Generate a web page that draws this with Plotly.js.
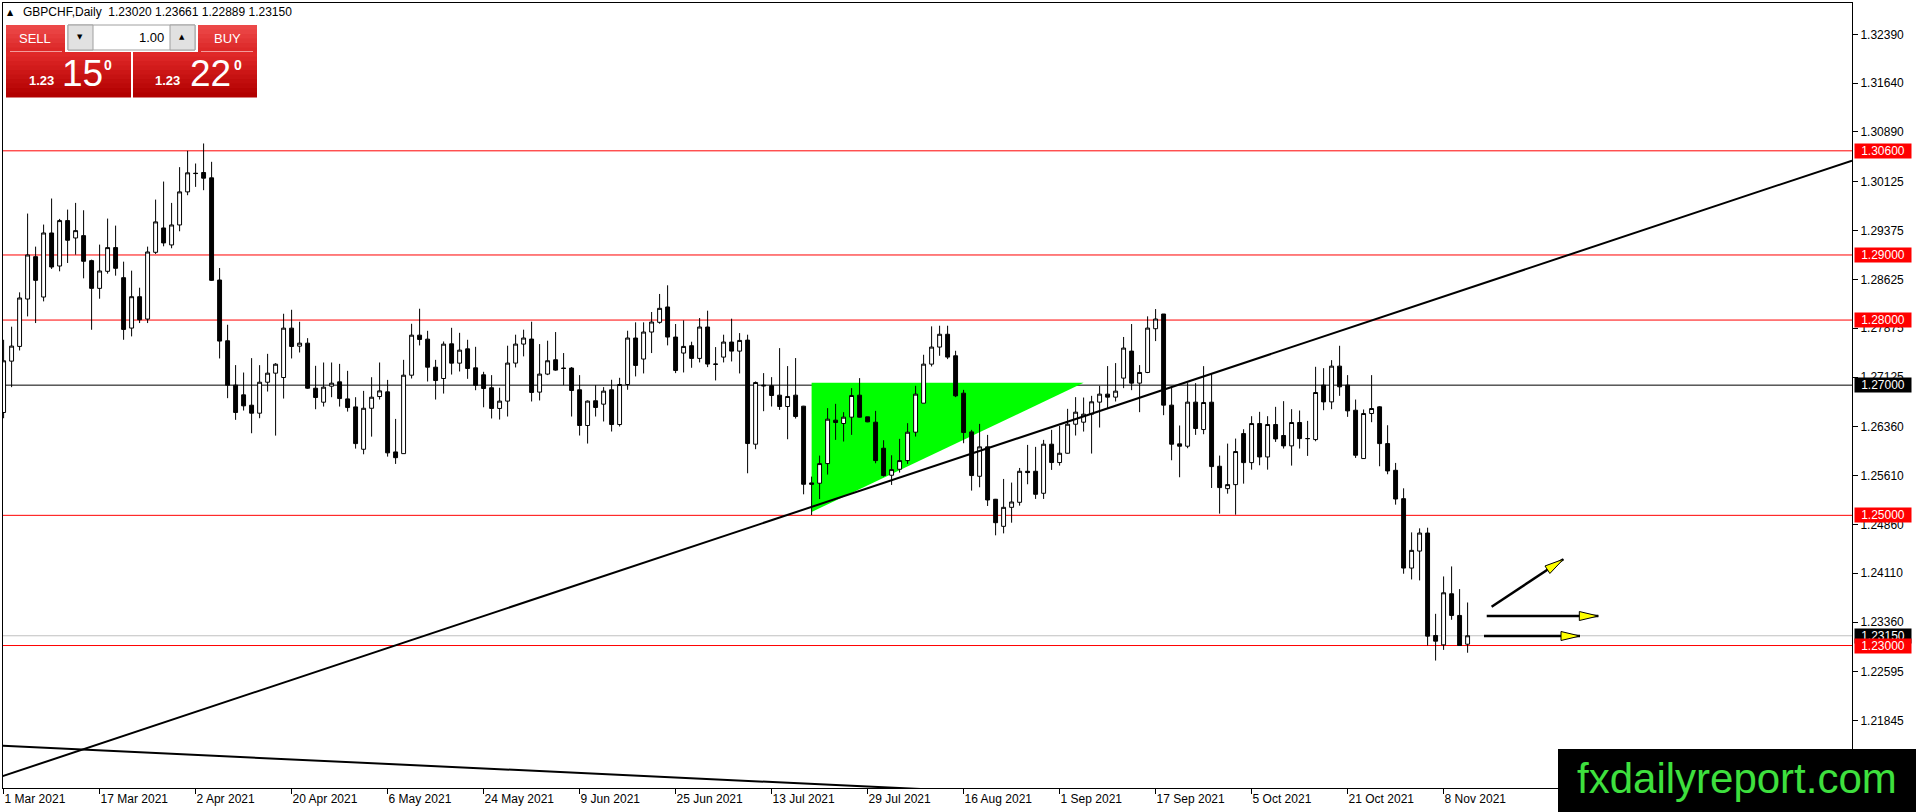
<!DOCTYPE html>
<html>
<head>
<meta charset="utf-8">
<script src="https://cdn.plot.ly/plotly-3.0.1.min.js"></script>
<style>
  html, body { margin: 0; padding: 0; background: #fff; }
  #chart { width: 1916px; height: 812px; }
</style>
</head>
<body>
<div id="chart"></div>
<script>
// GBPCHF daily bars, 1 Mar 2021 .. 11 Nov 2021
var openP = [1.26580,1.27369,1.27595,1.28323,1.28974,1.28354,1.29338,1.28830,1.29528,1.29261,
 1.29297,1.28913,1.28487,1.28749,1.29113,1.28651,1.27877,1.28359,1.28015,1.29041,
 1.29415,1.29154,1.29461,1.29969,1.30256,1.30267,1.30185,1.28615,1.27682,1.27000,
 1.26851,1.26692,1.26569,1.27045,1.27184,1.27117,1.27876,1.27599,1.27645,1.26953,
 1.26738,1.26984,1.27051,1.26789,1.26666,1.26015,1.26645,1.26825,1.26897,1.25974,
 1.25948,1.27153,1.27768,1.27707,1.27276,1.27102,1.27635,1.27338,1.27558,1.27266,
 1.27159,1.26960,1.26642,1.26755,1.27339,1.27631,1.27708,1.26893,1.27170,1.27390,
 1.27262,1.27262,1.26929,1.26380,1.26760,1.26708,1.26929,1.26395,1.27010,1.27724,
 1.27401,1.27816,1.27965,1.28201,1.27739,1.27493,1.27606,1.27411,1.27893,1.27318,
 1.27431,1.27662,1.27523,1.27692,1.26093,1.27000,1.26990,1.26846,1.26672,1.26846,
 1.26677,1.25498,1.25493,1.25795,1.26462,1.26411,1.26508,1.26846,1.26513,1.26431,
 1.26031,1.25616,1.25708,1.25841,1.26277,1.26723,1.27323,1.27585,1.27782,1.27451,
 1.26877,1.26282,1.25600,1.26052,1.25247,1.24831,1.25123,1.25200,1.25677,1.25677,
 1.25339,1.26093,1.25811,1.25954,1.26400,1.26431,1.26554,1.26739,1.26862,1.26816,
 1.27108,1.27523,1.27031,1.27195,1.27867,1.28093,1.26693,1.26098,1.26062,1.26739,
 1.26318,1.26738,1.25754,1.25410,1.25472,1.26256,1.25810,1.26410,1.25897,1.26395,
 1.26226,1.26067,1.26426,1.26179,1.26164,1.27000,1.26743,1.27292,1.27000,1.26615,
 1.25872,1.26564,1.26667,1.26102,1.25692,1.25256,1.24190,1.24451,1.24728,1.23154,
 1.23010,1.23795,1.23462,1.23020];

var highP = [1.27697,1.27898,1.28426,1.29636,1.29128,1.29467,1.29867,1.29554,1.29697,1.29800,
 1.29687,1.28928,1.29159,1.29559,1.29451,1.28897,1.28759,1.28497,1.29128,1.29851,
 1.30128,1.29800,1.30349,1.30600,1.30405,1.30713,1.30431,1.28800,1.27928,1.27308,
 1.27194,1.27415,1.27307,1.27481,1.27338,1.28097,1.28158,1.27974,1.27722,1.27297,
 1.27348,1.27348,1.27327,1.27220,1.26815,1.26912,1.27122,1.27348,1.27081,1.26481,
 1.27389,1.27943,1.28174,1.27835,1.27389,1.27671,1.27881,1.27804,1.27697,1.27589,
 1.27205,1.27154,1.26960,1.27606,1.27775,1.27852,1.27975,1.27631,1.27683,1.27816,
 1.27493,1.27278,1.27154,1.26765,1.27000,1.26970,1.27083,1.27113,1.27836,1.27965,
 1.27965,1.28124,1.28401,1.28534,1.27939,1.27995,1.27667,1.28031,1.28144,1.27585,
 1.27775,1.28021,1.27800,1.27775,1.27057,1.27185,1.27123,1.27569,1.27293,1.27416,
 1.26682,1.25595,1.25918,1.26647,1.26713,1.26585,1.26954,1.27108,1.26513,1.26605,
 1.26154,1.25923,1.26175,1.26416,1.26990,1.27467,1.27903,1.27913,1.27913,1.27528,
 1.26928,1.26313,1.26405,1.26236,1.25252,1.25559,1.25503,1.25728,1.26082,1.26052,
 1.26159,1.26313,1.26375,1.26636,1.26816,1.26810,1.26836,1.26990,1.27293,1.27339,
 1.27740,1.27939,1.27308,1.28057,1.28169,1.28093,1.26969,1.26380,1.27031,1.27031,
 1.27292,1.27179,1.25918,1.26102,1.26179,1.26323,1.26523,1.26590,1.26523,1.26667,
 1.26754,1.26631,1.26610,1.26451,1.27282,1.27261,1.27384,1.27605,1.27154,1.26779,
 1.26626,1.27154,1.26677,1.26384,1.25805,1.25415,1.24738,1.24800,1.24810,1.23487,
 1.24061,1.24215,1.23867,1.23661];

var lowP = [1.26492,1.26969,1.27533,1.28056,1.27954,1.28287,1.28785,1.28749,1.28877,1.29005,
 1.28641,1.27851,1.28328,1.28713,1.28682,1.27697,1.27749,1.27954,1.27954,1.29015,
 1.29133,1.29103,1.29364,1.29918,1.30046,1.29995,1.28600,1.27410,1.26800,1.26467,
 1.26610,1.26261,1.26492,1.26902,1.26225,1.26794,1.27410,1.27502,1.26943,1.26630,
 1.26671,1.26815,1.26671,1.26594,1.26025,1.25938,1.26209,1.26779,1.25902,1.25790,
 1.25948,1.27102,1.27610,1.27056,1.26779,1.26871,1.27163,1.27210,1.27097,1.26922,
 1.26660,1.26488,1.26472,1.26518,1.27272,1.27442,1.26749,1.26765,1.27154,1.27221,
 1.27000,1.26518,1.26226,1.26103,1.26518,1.26442,1.26288,1.26365,1.26929,1.27134,
 1.27180,1.27493,1.27944,1.27611,1.27185,1.27195,1.27267,1.27349,1.27277,1.27072,
 1.27349,1.27364,1.27180,1.25646,1.26016,1.26600,1.26672,1.26620,1.26169,1.26487,
 1.25323,1.25005,1.25250,1.25626,1.26159,1.26134,1.26236,1.26503,1.26431,1.25800,
 1.25595,1.25467,1.25657,1.25790,1.26210,1.26723,1.27287,1.27451,1.27400,1.26816,
 1.26108,1.25380,1.25431,1.25144,1.24693,1.24723,1.24887,1.25149,1.25477,1.25252,
 1.25252,1.25698,1.25764,1.25949,1.26226,1.26287,1.25949,1.26349,1.26646,1.26749,
 1.26954,1.26923,1.26585,1.27185,1.27677,1.26539,1.25846,1.25585,1.26031,1.26236,
 1.26246,1.25420,1.25026,1.25333,1.25010,1.25487,1.25702,1.25769,1.25702,1.26128,
 1.26026,1.25764,1.26026,1.25913,1.26138,1.26615,1.26631,1.26836,1.26513,1.25882,
 1.25867,1.26431,1.25754,1.25631,1.25164,1.24103,1.24015,1.24000,1.23000,1.22769,
 1.22933,1.23395,1.22995,1.22889];

var closeP = [1.27374,1.27600,1.28339,1.29000,1.28610,1.29338,1.28815,1.29528,1.29226,1.29374,
 1.28903,1.28487,1.28754,1.29113,1.28795,1.27856,1.28359,1.28005,1.29046,1.29508,
 1.29185,1.29461,1.29969,1.30262,1.30251,1.30180,1.28610,1.27677,1.27000,1.26580,
 1.26682,1.26569,1.27045,1.27184,1.27322,1.27876,1.27594,1.27645,1.26953,1.26810,
 1.26969,1.27030,1.26794,1.26656,1.26102,1.26645,1.26815,1.26912,1.25960,1.25886,
 1.27153,1.27768,1.27702,1.27276,1.27071,1.27630,1.27338,1.27538,1.27256,1.26999,
 1.26949,1.26642,1.26755,1.27339,1.27631,1.27724,1.26888,1.27170,1.27375,1.27231,
 1.27257,1.26918,1.26380,1.26755,1.26657,1.26908,1.26395,1.27010,1.27724,1.27303,
 1.27816,1.27970,1.28180,1.27739,1.27226,1.27595,1.27411,1.27893,1.27324,1.27324,
 1.27662,1.27523,1.27687,1.26103,1.27041,1.26990,1.26841,1.26672,1.26826,1.26518,
 1.25477,1.25477,1.25795,1.26477,1.26426,1.26508,1.26841,1.26508,1.26436,1.25841,
 1.25611,1.25703,1.25841,1.26277,1.26862,1.27323,1.27585,1.27782,1.27431,1.26836,
 1.26272,1.25611,1.26052,1.25236,1.24887,1.25123,1.25205,1.25677,1.25657,1.25323,
 1.26093,1.25811,1.25954,1.26400,1.26585,1.26554,1.26744,1.26862,1.26816,1.26908,
 1.27570,1.27031,1.27195,1.27877,1.28016,1.26693,1.26093,1.26062,1.26739,1.26334,
 1.26733,1.25749,1.25426,1.25472,1.25980,1.25810,1.26410,1.25897,1.26395,1.26174,
 1.26067,1.26426,1.26179,1.26179,1.26887,1.26743,1.27292,1.26974,1.26605,1.25923,
 1.26564,1.26641,1.26102,1.25682,1.25251,1.24190,1.24462,1.24728,1.23144,1.23067,
 1.23810,1.23462,1.23000,1.23150];

// date axis labels
var tickDates = ['2021-03-01','2021-03-17','2021-04-02','2021-04-20','2021-05-06','2021-05-24',
 '2021-06-09','2021-06-25','2021-07-13','2021-07-29','2021-08-16','2021-09-01','2021-09-17',
 '2021-10-05','2021-10-21','2021-11-08'];
var tickLabels = ['1 Mar 2021','17 Mar 2021','2 Apr 2021','20 Apr 2021','6 May 2021','24 May 2021',
 '9 Jun 2021','25 Jun 2021','13 Jul 2021','29 Jul 2021','16 Aug 2021','1 Sep 2021','17 Sep 2021',
 '5 Oct 2021','21 Oct 2021','8 Nov 2021'];

// price scale labels
var priceTicks = [1.32390,1.31640,1.30890,1.30125,1.29375,1.28625,1.27875,1.27125,
 1.26360,1.25610,1.24860,1.24110,1.23360,1.22595,1.21845];

// drawn objects (bar index, price)
var redLevels = [1.30600, 1.29000, 1.28000, 1.25000, 1.23000];
var blackLevel = 1.27000;
var bidPrice = 1.23150;
var trendX = [-0.45, 231.05], trendY = [1.2098, 1.3045];
var fallX = [-0.45, 150], fallY = [1.21461, 1.20591];
var triX = [101, 101, 135], triY = [1.25052, 1.27036, 1.27036];
var arrowX0 = [186.0, 185.39, 185.05], arrowY0 = [1.23596, 1.23453, 1.23146];
var arrowX1 = [194.96, 199.34, 197.05], arrowY1 = [1.24325, 1.23453, 1.23146];

// page geometry
var W = 1916, H = 812;
var mL = 3, mR = 64, mT = 3, mB = 24;
function px(x) { return (x - mL) / (W - mL - mR); }
function py(y) { return (H - mB - y) / (H - mT - mB); }

function tradingDays(start, n) {
  var out = [];
  var d = new Date(start + 'T00:00:00Z');
  while (out.length < n) {
    var wd = d.getUTCDay();
    if (wd !== 0 && wd !== 6) out.push(d.toISOString().slice(0, 10));
    d.setUTCDate(d.getUTCDate() + 1);
  }
  return out;
}
var days = tradingDays('2021-03-01', closeP.length);
var bars = days.map(function(d, i) { return i; });
var tickIdx = tickDates.map(function(d) { return days.indexOf(d); });

var font = 'Liberation Sans, Arial, sans-serif';

var traces = [
  {
    type: 'candlestick', x: bars, open: openP, high: highP, low: lowP, close: closeP,
    text: days, whiskerwidth: 0,
    increasing: {line: {color: 'black', width: 1}, fillcolor: 'white'},
    decreasing: {line: {color: 'black', width: 1}, fillcolor: 'black'}
  },
  {
    type: 'scatter', x: trendX, y: trendY, mode: 'lines',
    line: {color: 'black', width: 2}, hoverinfo: 'skip'
  },
  {
    type: 'scatter', x: fallX, y: fallY, mode: 'lines',
    line: {color: 'black', width: 2}, hoverinfo: 'skip'
  }
];

var shapes = [];
// green triangle sits behind the bars
shapes.push({type: 'path', xref: 'x', yref: 'y', layer: 'below',
  path: 'M' + triX[0] + ',' + triY[0] + ' L' + triX[1] + ',' + triY[1] + ' L' + triX[2] + ',' + triY[2] + ' Z',
  fillcolor: '#00ff00', line: {width: 0}});
redLevels.forEach(function(v) {
  shapes.push({type: 'line', xref: 'paper', yref: 'y', x0: 0, x1: 1, y0: v, y1: v,
    line: {color: '#ff0000', width: 1}, layer: 'below'});
});
shapes.push({type: 'line', xref: 'paper', yref: 'y', x0: 0, x1: 1, y0: blackLevel, y1: blackLevel,
  line: {color: 'black', width: 1}, layer: 'below'});
shapes.push({type: 'line', xref: 'paper', yref: 'y', x0: 0, x1: 1, y0: bidPrice, y1: bidPrice,
  line: {color: '#c0c0c0', width: 1}, layer: 'below'});

// arrows: black shaft + yellow head
for (var k = 0; k < arrowX0.length; k++) {
  shapes.push({type: 'line', xref: 'x', yref: 'y', x0: arrowX0[k], y0: arrowY0[k],
    x1: arrowX1[k], y1: arrowY1[k], line: {color: 'black', width: 2.5}, layer: 'above'});
  var a = Math.atan2((arrowY1[k] - arrowY0[k]) * 6509, (arrowX1[k] - arrowX0[k]) * 8);
  var len = 19, hw = 4.5;
  var c = Math.cos(a), s = Math.sin(a);
  var bx = -len * c, by = -len * s;
  var p1 = [bx - hw * s, by + hw * c], p2 = [bx + hw * s, by - hw * c];
  shapes.push({type: 'path', xref: 'x', yref: 'y', xsizemode: 'pixel', ysizemode: 'pixel',
    xanchor: arrowX1[k], yanchor: arrowY1[k],
    path: 'M0,0 L' + p1[0].toFixed(1) + ',' + p1[1].toFixed(1) + ' L' + p2[0].toFixed(1) + ',' + p2[1].toFixed(1) + ' Z',
    fillcolor: '#ffff00', line: {color: 'black', width: 1}, layer: 'above'});
}

// one-click trading panel
function rect(x0, y0, x1, y1, fill, lineColor) {
  shapes.push({type: 'rect', xref: 'paper', yref: 'paper', x0: px(x0), x1: px(x1), y0: py(y1), y1: py(y0),
    fillcolor: fill, line: {color: lineColor || fill, width: lineColor ? 1 : 0}, layer: 'above'});
}
function grad(x0, y0, x1, y1, c0, c1, n) {
  var h = (y1 - y0) / n;
  for (var j = 0; j < n; j++) {
    var t = j / (n - 1);
    var col = 'rgb(' + Math.round(c0[0] + (c1[0] - c0[0]) * t) + ',' +
      Math.round(c0[1] + (c1[1] - c0[1]) * t) + ',' + Math.round(c0[2] + (c1[2] - c0[2]) * t) + ')';
    rect(x0, y0 + j * h, x1, y0 + (j + 1) * h + 0.5, col);
  }
}
grad(6, 25, 65, 52, [236, 72, 72], [220, 40, 40], 6);
grad(198, 25, 257, 52, [236, 72, 72], [220, 40, 40], 6);
grad(6, 52, 131, 97, [224, 40, 40], [178, 0, 0], 10);
grad(133, 52, 257, 97, [224, 40, 40], [178, 0, 0], 10);
shapes.push({type: 'line', xref: 'paper', yref: 'paper', x0: px(10), x1: px(62), y0: py(51.5), y1: py(51.5),
  line: {color: '#f39a9a', width: 1}, layer: 'above'});
shapes.push({type: 'line', xref: 'paper', yref: 'paper', x0: px(201), x1: px(253), y0: py(51.5), y1: py(51.5),
  line: {color: '#f39a9a', width: 1}, layer: 'above'});
rect(68, 25, 195, 50, '#ffffff', '#a0a0a0');
rect(68, 25, 93, 50, '#e1e1e1', '#a0a0a0');
rect(170, 25, 195, 50, '#e1e1e1', '#a0a0a0');

// logo box
rect(1558, 749, 1916, 812, '#000000');

var ann = [];
function label(x, y, text, size, color, anchor, fam, weight) {
  ann.push({xref: 'paper', yref: 'paper', x: px(x), y: py(y), text: text, showarrow: false,
    xanchor: anchor || 'center', yanchor: 'middle',
    font: {family: fam || font, size: size, color: color, weight: weight || 'normal'}});
}
label(10, 12.5, '▲', 8, 'black', 'center', 'DejaVu Sans');
label(21, 12.5, 'GBPCHF,Daily&nbsp;&nbsp;1.23020 1.23661 1.22889 1.23150', 12, 'black', 'left');
label(35, 38.5, 'SELL', 13, 'white');
label(227, 38.5, 'BUY', 13, 'white');
label(80, 37.5, '▼', 7, 'black', 'center', 'DejaVu Sans');
label(182, 37.5, '▲', 7, 'black', 'center', 'DejaVu Sans');
label(166, 37.5, '1.00', 13, 'black', 'right');
label(41, 81, '1.23', 13, 'white', 'center', font, 'bold');
label(82, 74, '15', 37, 'white');
label(108, 65, '0', 14, 'white', 'center', font, 'bold');
label(167, 81, '1.23', 13, 'white', 'center', font, 'bold');
label(210, 74, '22', 37, 'white');
label(238, 65, '0', 14, 'white', 'center', font, 'bold');
label(1737, 778, 'fxdailyreport.com', 42, '#3ee03e');

// price boxes on the scale
function priceBox(v, bg) {
  ann.push({xref: 'paper', yref: 'y', x: px(1854), y: v, xanchor: 'left', yanchor: 'middle',
    text: v.toFixed(5), showarrow: false, bgcolor: bg, width: 54, height: 12, borderpad: 1,
    align: 'center', font: {family: font, size: 12, color: 'white'}});
}
priceBox(bidPrice, '#000000');
priceBox(blackLevel, '#000000');
redLevels.forEach(function(v) { priceBox(v, '#ff0000'); });

var layout = {
  width: W, height: H,
  margin: {l: mL, r: mR, t: mT, b: mB, pad: 0},
  paper_bgcolor: 'white', plot_bgcolor: 'white',
  showlegend: false, hovermode: false, dragmode: false,
  font: {family: font, size: 12, color: 'black'},
  xaxis: {
    type: 'linear', range: [-0.075, 231.05], rangeslider: {visible: false},
    showgrid: false, zeroline: false, showline: true, mirror: true, linecolor: 'black', linewidth: 1,
    ticks: 'outside', ticklen: 5, tickcolor: 'black', tickwidth: 1,
    tickmode: 'array', tickvals: tickIdx, ticktext: tickLabels,
    ticklabelposition: 'outside right', tickfont: {family: font, size: 12, color: 'black'}
  },
  yaxis: {
    side: 'right', range: [1.20811, 1.32871],
    showgrid: false, zeroline: false, showline: true, mirror: true, linecolor: 'black', linewidth: 1,
    ticks: 'outside', ticklen: 5, tickcolor: 'black', tickwidth: 1,
    tickmode: 'array', tickvals: priceTicks, ticktext: priceTicks.map(function(v) { return v.toFixed(5); }),
    tickfont: {family: font, size: 12, color: 'black'}
  },
  shapes: shapes,
  annotations: ann
};

Plotly.newPlot('chart', traces, layout, {staticPlot: true, responsive: false});
</script>
</body>
</html>
